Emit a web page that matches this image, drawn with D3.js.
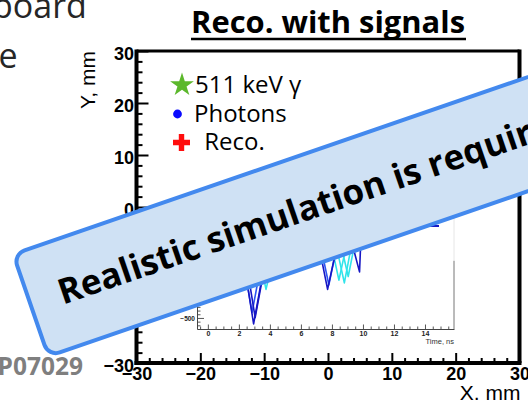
<!DOCTYPE html>
<html>
<head>
<meta charset="utf-8">
<script src="https://cdn.jsdelivr.net/npm/d3@7"></script>
<style>
  html, body { margin: 0; padding: 0; background: #fff; }
  svg { display: block; }
</style>
</head>
<body>
<svg id="chart" width="528" height="400"></svg>
<script>
// ---- main reconstruction plot (X/Y in mm) ----
const xDomain = [-30, 30];
const yDomain = [-30, 30];
const majorTicks = [-30, -20, -10, 0, 10, 20, 30];
const minorTicks = [-28, -26, -24, -22, -18, -16, -14, -12, -8, -6, -4, -2,
                    2, 4, 6, 8, 12, 14, 16, 18, 22, 24, 26, 28];

// ---- legend ----
const legendLabels = ["511 keV \u03b3", "Photons", " Reco."];

// ---- inset: photo-detector signals (amplitude vs time, ns) ----
const timeDomain = [-0.7, 15.87];
const ampDomain = [-560, 140];
const timeTicks = [0, 2, 4, 6, 8, 10, 12, 14];
const timeMinor = [-0.5, 0.5, 1, 1.5, 2.5, 3, 3.5, 4.5, 5, 5.5, 6.5, 7, 7.5, 8.5, 9,
                   9.5, 10.5, 11, 11.5, 12.5, 13, 13.5, 14.5, 15, 15.5];
const ampTicks = [-500, -400, -300, -200, -100, 0, 100];
const ampMinor = [-540, -520, -480, -460, -440, -420, -380, -360, -340, -320,
                  -280, -260, -240, -220, -180, -160, -140, -120, -80, -60, -40,
                  -20, 20, 40, 60, 80, 120];

// sampled waveforms: [time ns, amplitude]
const traceDeep1 = [[-0.6, 0], [1.95, 0], [2.95, -532], [4.1, 0], [14.9, 0]];
const traceDeep2 = [[-0.6, 0], [2.1, 0], [3.05, -498], [4.15, 0], [14.9, 0]];
const traceBlue1 = [[-0.6, 0], [1.9, 0], [2.85, -470], [3.9, 0], [14.9, 0]];
const traceCyan1 = [[-0.6, 0], [2.9, 0], [3.75, -345], [4.7, 0], [14.9, 0]];
const traceCyan2 = [[-0.6, 0], [3.0, 0], [3.6, -300], [4.4, 0], [14.9, 0]];
const traceDeep3 = [[-0.6, 0], [6.9, 0], [7.72, -345], [8.6, 0], [14.9, 0]];
const traceBlue2 = [[-0.6, 0], [7.0, 0], [7.8, -320], [8.6, 0], [14.9, 0]];
const traceCyan3 = [[-0.6, 0], [7.7, 0], [8.45, -295], [9.2, 0], [14.9, 0]];
const traceCyan4 = [[-0.6, 0], [8.0, 0], [8.8, -310], [9.5, 0], [14.9, 0]];
const traceCyan5 = [[-0.6, 0], [8.3, 0], [9.05, -275], [9.7, 0], [14.9, 0]];
const traceDeep4 = [[-0.6, 0], [9.0, 0], [9.78, -250], [9.9, 0], [14.9, 0]];

const traces = [
  { pts: traceCyan1, kind: "cyan" }, { pts: traceCyan2, kind: "cyan" },
  { pts: traceCyan3, kind: "cyan" }, { pts: traceCyan4, kind: "cyan" },
  { pts: traceCyan5, kind: "cyan" },
  { pts: traceBlue1, kind: "blue" }, { pts: traceBlue2, kind: "blue" },
  { pts: traceDeep1, kind: "deep" }, { pts: traceDeep2, kind: "deep" },
  { pts: traceDeep3, kind: "deep" }, { pts: traceDeep4, kind: "deep" }
];
const traceColour = { deep: "#1616c4", blue: "#2b55f2", cyan: "#30e4ea" };

const svg = d3.select("#chart");
const axisFont = "'Liberation Sans', Arial, sans-serif";
const slideFont = "'Open Sans', sans-serif";

const x = d3.scaleLinear(xDomain, [136.5, 519.5]);
const y = d3.scaleLinear(yDomain, [363, 51]);

// ---- frame ----
const frame = svg.append("g");
frame.append("line").attr("x1", x(-30)).attr("x2", x(30)).attr("y1", y(30)).attr("y2", y(30))
  .attr("stroke", "#000").attr("stroke-width", 3);
frame.append("line").attr("x1", x(30)).attr("x2", x(30)).attr("y1", y(30) - 1.5).attr("y2", y(-30))
  .attr("stroke", "#000").attr("stroke-width", 4);

// left axis: ticks point into the plot
const yMajor = svg.append("g").attr("transform", `translate(${x(-30)},0)`)
  .call(d3.axisLeft(y).tickValues(majorTicks).tickSizeInner(-12).tickSizeOuter(0).tickPadding(3));
const yMinor = svg.append("g").attr("transform", `translate(${x(-30)},0)`)
  .call(d3.axisLeft(y).tickValues(minorTicks).tickSizeInner(-6).tickSizeOuter(0).tickFormat(""));
[yMajor, yMinor].forEach(g => {
  g.select(".domain").remove();
  g.selectAll(".tick line").attr("stroke", "#000").attr("stroke-width", 2);
});
yMajor.selectAll(".tick text")
  .attr("font-family", axisFont).attr("font-weight", "bold").attr("font-size", 18)
  .attr("fill", "#000").attr("dy", "0.45em").attr("x", -2.5);

// bottom axis
const xMajor = svg.append("g").attr("transform", `translate(0,${y(-30)})`)
  .call(d3.axisBottom(x).tickValues(majorTicks).tickSizeInner(-10).tickSizeOuter(0).tickPadding(4));
const xMinor = svg.append("g").attr("transform", `translate(0,${y(-30)})`)
  .call(d3.axisBottom(x).tickValues(minorTicks).tickSizeInner(-5).tickSizeOuter(0).tickFormat(""));
[xMajor, xMinor].forEach(g => {
  g.select(".domain").remove();
  g.selectAll(".tick line").attr("stroke", "#000").attr("stroke-width", 2);
});
xMajor.selectAll(".tick text")
  .attr("font-family", axisFont).attr("font-weight", "bold").attr("font-size", 18).attr("fill", "#000");

frame.raise();
svg.append("line").attr("x1", x(-30)).attr("x2", x(-30)).attr("y1", y(30) - 1.5).attr("y2", y(-30) + 2)
  .attr("stroke", "#000").attr("stroke-width", 4);
svg.append("line").attr("x1", x(-30) - 2).attr("x2", x(30) + 2).attr("y1", y(-30)).attr("y2", y(-30))
  .attr("stroke", "#000").attr("stroke-width", 4);

// axis titles
svg.append("text").attr("transform", `translate(95,${y(30)}) rotate(-90)`)
  .attr("text-anchor", "end").attr("font-family", axisFont).attr("font-size", 21)
  .attr("fill", "#000").text("Y, mm");
svg.append("text").attr("x", x(30) + 1).attr("y", 400)
  .attr("text-anchor", "end").attr("font-family", axisFont).attr("font-size", 21)
  .attr("fill", "#000").text("X, mm");

// ---- inset with the signals ----
const tx = d3.scaleLinear(timeDomain, [197, 454]);
const ty = d3.scaleLinear(ampDomain, [329, 200]);
const inset = svg.append("g");

const line = d3.line().x(d => tx(d[0])).y(d => ty(d[1]));
inset.append("g").selectAll("path").data(traces).join("path")
  .attr("d", d => line(d.pts))
  .attr("fill", "none")
  .attr("stroke", d => traceColour[d.kind])
  .attr("stroke-width", 1.6)
  .attr("stroke-linejoin", "round");

const tMajor = inset.append("g").attr("transform", `translate(0,${ty(ampDomain[0])})`)
  .call(d3.axisBottom(tx).tickValues(timeTicks).tickSizeInner(-4.5).tickSizeOuter(0).tickPadding(2));
const tMinor = inset.append("g").attr("transform", `translate(0,${ty(ampDomain[0])})`)
  .call(d3.axisBottom(tx).tickValues(timeMinor).tickSizeInner(-2.5).tickSizeOuter(0).tickFormat(""));
tMinor.select(".domain").remove();
tMajor.select(".domain").attr("stroke", "#444").attr("stroke-width", 1.2);
[tMajor, tMinor].forEach(g => g.selectAll(".tick line").attr("stroke", "#444").attr("stroke-width", 0.9));
tMajor.selectAll(".tick text").attr("font-family", axisFont).attr("font-size", 7)
  .attr("font-weight", "bold").attr("fill", "#222");

const aMajor = inset.append("g").attr("transform", `translate(${tx(timeDomain[0])},0)`)
  .call(d3.axisLeft(ty).tickValues(ampTicks).tickSizeInner(-7).tickSizeOuter(0).tickPadding(2));
const aMinor = inset.append("g").attr("transform", `translate(${tx(timeDomain[0])},0)`)
  .call(d3.axisLeft(ty).tickValues(ampMinor).tickSizeInner(-3.5).tickSizeOuter(0).tickFormat(""));
aMinor.select(".domain").remove();
aMajor.select(".domain").attr("stroke", "#444").attr("stroke-width", 1);
[aMajor, aMinor].forEach(g => g.selectAll(".tick line").attr("stroke", "#444").attr("stroke-width", 0.9));
aMajor.selectAll(".tick text").attr("font-family", axisFont).attr("font-size", 6.5)
  .attr("font-weight", "bold").attr("fill", "#222");

// right edge of the inset frame
inset.append("line").attr("x1", tx(timeDomain[1])).attr("x2", tx(timeDomain[1]))
  .attr("y1", ty(ampDomain[1])).attr("y2", ty(-190)).attr("stroke", "#e6e6e6").attr("stroke-width", 1);
inset.append("line").attr("x1", tx(timeDomain[1])).attr("x2", tx(timeDomain[1]))
  .attr("y1", ty(-190)).attr("y2", ty(ampDomain[0])).attr("stroke", "#777").attr("stroke-width", 1);

inset.append("text").attr("x", tx(timeDomain[1])).attr("y", 343.5)
  .attr("text-anchor", "end").attr("font-family", axisFont).attr("font-size", 7.5)
  .attr("fill", "#333").text("Time, ns");

// ---- legend ----
const legend = svg.append("g");
const legendRows = [93, 122, 150];
const legendX = [195, 194, 198];
legend.append("path")
  .attr("d", d3.symbol(d3.symbolStar, 175)())
  .attr("transform", "translate(182,85)")
  .attr("fill", "#5cb82c");
legend.append("circle").attr("cx", 177.5).attr("cy", 114).attr("r", 4.4).attr("fill", "#0a0aff");
legend.append("path")
  .attr("d", "M-2.7,-8.5H2.7V-2.7H8.5V2.7H2.7V8.5H-2.7V2.7H-8.5V-2.7H-2.7Z")
  .attr("transform", "translate(181.5,142.5)").attr("fill", "#ff0d0d");
legend.selectAll("text.lbl").data(legendLabels).join("text").attr("class", "lbl")
  .attr("x", (d, i) => legendX[i]).attr("y", (d, i) => legendRows[i])
  .attr("font-family", slideFont).attr("font-size", 24).attr("fill", "#000")
  .attr("xml:space", "preserve").style("white-space", "pre")
  .text(d => d);

// ---- slide texts ----
svg.append("text").attr("x", -8).attr("y", 18).attr("font-family", slideFont)
  .attr("font-size", 34).attr("fill", "#262626").text("board");
svg.append("text").attr("x", -1.5).attr("y", 68).attr("font-family", slideFont)
  .attr("font-size", 34).attr("fill", "#262626").text("e");
svg.append("text").attr("x", 83).attr("y", 375).attr("text-anchor", "end")
  .attr("font-family", slideFont).attr("font-weight", "bold").attr("font-size", 24.5)
  .attr("fill", "#7f7f7f").text("P07029");

// title
svg.append("text").attr("x", 191).attr("y", 33).attr("font-family", slideFont)
  .attr("font-weight", "bold").attr("font-size", 30).attr("fill", "#000")
  .attr("textLength", 274).attr("lengthAdjust", "spacingAndGlyphs")
  .text("Reco. with signals");
svg.append("line").attr("x1", 191).attr("x2", 466).attr("y1", 39).attr("y2", 39)
  .attr("stroke", "#000").attr("stroke-width", 2.6);

// ---- callout banner ----
const banner = svg.append("g").attr("transform", "translate(10.7,253) rotate(-19)");
banner.append("rect").attr("x", 2).attr("y", 2).attr("width", 720).attr("height", 108)
  .attr("rx", 12).attr("fill", "#cfe1f4").attr("stroke", "#4389ee").attr("stroke-width", 4);
banner.append("text").attr("x", 32.5).attr("y", 66)
  .attr("font-family", slideFont).attr("font-weight", "bold").attr("font-size", 35)
  .attr("fill", "#000").text("Realistic simulation is required");
</script>
</body>
</html>
